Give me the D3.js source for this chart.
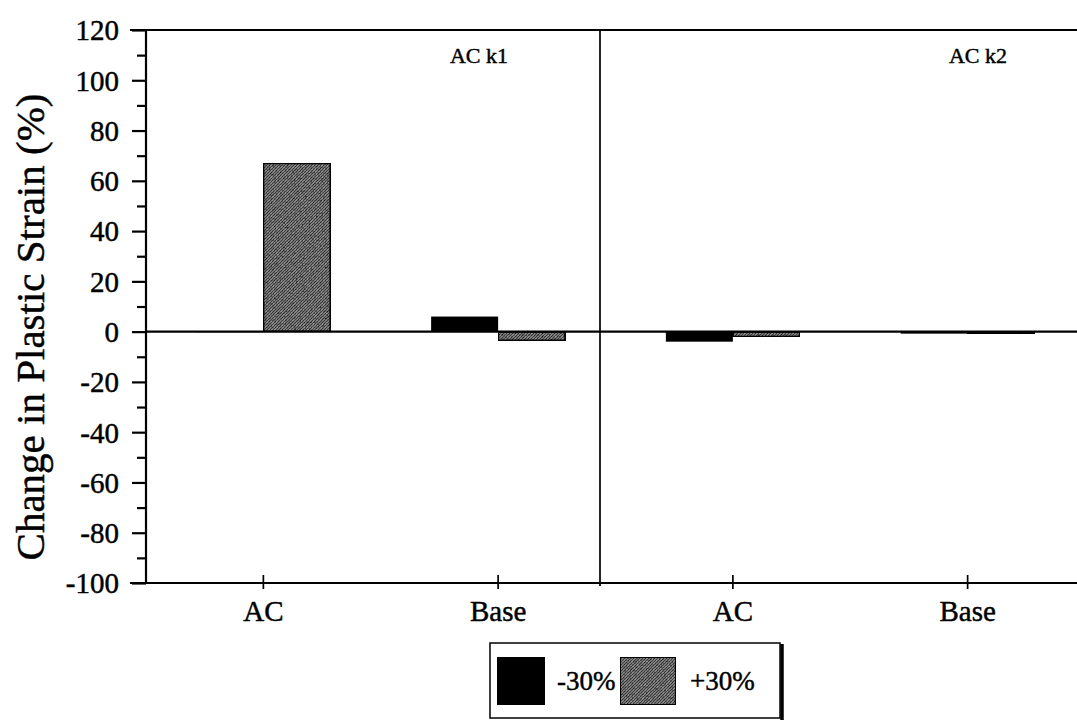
<!DOCTYPE html>
<html>
<head>
<meta charset="utf-8">
<script src="https://cdn.jsdelivr.net/npm/d3@7"></script>
<style>
  html, body { margin: 0; padding: 0; background: #fff; }
  svg { display: block; }
  text { font-family: "Liberation Serif", "Times New Roman", serif; fill: #000; stroke: #000; stroke-width: 0.45px; }
</style>
</head>
<body>
<svg id="chart" width="1077" height="722"></svg>
<script>
// Panels (AC stiffness variants) and the layers within each panel
const panels = ["AC k1", "AC k2"];
const layers = ["AC", "Base"];
const seriesNames = ["-30%", "+30%"];

// Change in plastic strain (%), ordered panel by panel: AC k1/AC, AC k1/Base, AC k2/AC, AC k2/Base
const minus30 = [0, 6, -4, -0.8];
const plus30 = [67, -3.5, -2, -0.6];

// Y axis ticks
const yMajorTicks = [-100, -80, -60, -40, -20, 0, 20, 40, 60, 80, 100, 120];
const yMinorTicks = [-90, -70, -50, -30, -10, 10, 30, 50, 70, 90, 110];

const W = 1077, H = 722;
const plot = { left: 146, top: 30, bottom: 583, right: 1085 };

const svg = d3.select("#chart");

// Texture for the +30% bars
const defs = svg.append("defs");
const filt = defs.append("filter").attr("id", "grain").attr("x", 0).attr("y", 0).attr("width", 1).attr("height", 1);
filt.append("feTurbulence").attr("type", "fractalNoise").attr("baseFrequency", 0.55).attr("numOctaves", 3).attr("seed", 4).attr("result", "noise");
filt.append("feColorMatrix").attr("in", "noise").attr("type", "matrix")
  .attr("values", "0 0 0 0 0  0 0 0 0 0  0 0 0 0 0  0 0 0 -1.6 1.1").attr("result", "dark");
filt.append("feComposite").attr("in", "dark").attr("in2", "SourceGraphic").attr("operator", "in").attr("result", "darkIn");
filt.append("feMerge").selectAll("feMergeNode").data(["SourceGraphic", "darkIn"]).enter()
  .append("feMergeNode").attr("in", d => d);

const hatch = defs.append("pattern").attr("id", "hatch").attr("patternUnits", "userSpaceOnUse")
  .attr("width", 3).attr("height", 3);
hatch.append("rect").attr("width", 3).attr("height", 3).attr("fill", "#8e8e8e");
hatch.append("path").attr("d", "M0,3 L3,0").attr("stroke", "#474747").attr("stroke-width", 1);

// Scales
const keys = [];
panels.forEach(p => layers.forEach(l => keys.push(p + "|" + l)));
const x = d3.scalePoint().domain(keys).range([plot.left, plot.right]).padding(0.5);
const barW = 67;
const y = d3.scaleLinear().domain([-100, 120]).range([plot.bottom, plot.top]);
const panelScale = d3.scaleBand().domain(panels).range([plot.left, 1054]).paddingInner(0);

const rows = keys.map((k, i) => ({ key: k, layer: k.split("|")[1], v: [minus30[i], plus30[i]] }));

// Bars
const g = svg.append("g");
rows.forEach(r => {
  r.v.forEach((v, s) => {
    const x0 = s === 0 ? x(r.key) - barW : x(r.key);
    const y0 = Math.min(y(v), y(0));
    const h = Math.abs(y(v) - y(0));
    if (s === 0) {
      g.append("rect").attr("x", x0).attr("y", y0).attr("width", barW).attr("height", Math.max(h, 0.5))
        .attr("fill", "#000");
    } else {
      g.append("rect").attr("x", x0).attr("y", y0).attr("width", barW).attr("height", Math.max(h, 0.5))
        .attr("fill", "url(#hatch)").attr("filter", "url(#grain)")
        .attr("stroke", "#111").attr("stroke-width", 2);
    }
  });
});

// Frame: top border, bottom axis, zero line, panel divider
const lineStyle = sel => sel.attr("stroke", "#000").attr("stroke-width", 2.2).attr("fill", "none");
svg.append("line").attr("x1", 130).attr("x2", W).attr("y1", y(120)).attr("y2", y(120)).call(lineStyle);
svg.append("line").attr("x1", 130).attr("x2", W).attr("y1", y(-100)).attr("y2", y(-100)).call(lineStyle);
svg.append("line").attr("x1", plot.left).attr("x2", W).attr("y1", y(0)).attr("y2", y(0)).call(lineStyle);
svg.append("line").attr("x1", panelScale("AC k2")).attr("x2", panelScale("AC k2"))
  .attr("y1", y(120)).attr("y2", y(-100) + 3).attr("stroke", "#000").attr("stroke-width", 1.7);

// Y axis
const yAxisMajor = d3.axisLeft(y).tickValues(yMajorTicks).tickSize(14).tickPadding(13).tickFormat(d3.format("d"));
const yAxisMinor = d3.axisLeft(y).tickValues(yMinorTicks).tickSize(9).tickFormat("");
const ya = svg.append("g").attr("transform", `translate(${plot.left},0)`).call(yAxisMajor);
const ym = svg.append("g").attr("transform", `translate(${plot.left},0)`).call(yAxisMinor);
[ya, ym].forEach(a => {
  a.select(".domain").remove();
  a.selectAll(".tick line").attr("stroke", "#000").attr("stroke-width", 2.2);
});
ya.attr("font-family", null).attr("font-size", null);
ya.selectAll(".tick text").attr("font-size", 29).attr("dy", "0.34em")
  .text(d => d < 0 ? "-" + Math.abs(d) : d);
svg.append("line").attr("x1", plot.left).attr("x2", plot.left).attr("y1", y(120)).attr("y2", y(-100)).call(lineStyle);

// X axis: category ticks crossing the baseline and labels
const xa = svg.append("g");
keys.forEach(k => {
  xa.append("line").attr("x1", x(k)).attr("x2", x(k)).attr("y1", y(-100) - 8).attr("y2", y(-100) + 6)
    .attr("stroke", "#000").attr("stroke-width", 1.7);
  xa.append("text").attr("x", x(k)).attr("y", y(-100) + 38).attr("text-anchor", "middle")
    .attr("font-size", 29).text(k.split("|")[1]);
});

// Panel labels
const panelLabelX = d3.scalePoint().domain(panels).range([479, 978]);
panels.forEach(p => {
  svg.append("text").attr("x", panelLabelX(p)).attr("y", 63).attr("text-anchor", "middle")
    .attr("font-size", 22).text(p);
});

// Y axis title
svg.append("text").attr("transform", `translate(44,327) rotate(-90)`)
  .attr("text-anchor", "middle").attr("font-size", 41).text("Change in Plastic Strain (%)");

// Legend
const lg = svg.append("g").attr("transform", "translate(490,643)");
lg.append("rect").attr("x", 0).attr("y", 0).attr("width", 290).attr("height", 75)
  .attr("fill", "#fff").attr("stroke", "#000").attr("stroke-width", 1.5);
lg.append("line").attr("x1", 292).attr("x2", 292).attr("y1", 1).attr("y2", 77).attr("stroke", "#000").attr("stroke-width", 3.5);
const legendItems = seriesNames.map((s, i) => ({ name: s, i }));
legendItems.forEach(d => {
  const ox = 7 + d.i * 123;
  const sw = lg.append("rect").attr("x", ox).attr("y", 14).attr("width", d.i === 0 ? 48 : 56).attr("height", 48);
  if (d.i === 0) sw.attr("fill", "#000");
  else sw.attr("fill", "url(#hatch)").attr("filter", "url(#grain)").attr("stroke", "#111").attr("stroke-width", 2);
  lg.append("text").attr("x", ox + (d.i === 0 ? 60 : 70)).attr("y", 47).attr("font-size", 27).text(d.name);
});
</script>
</body>
</html>
